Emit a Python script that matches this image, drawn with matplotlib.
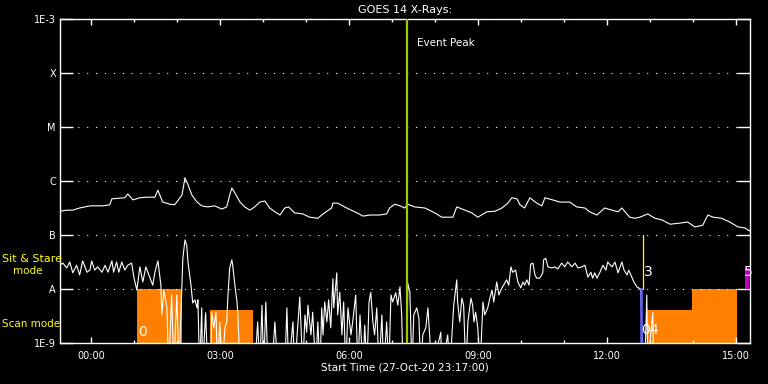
import numpy as np
import matplotlib
matplotlib.use('Agg')
from matplotlib import pyplot as plt
from matplotlib.ticker import FixedLocator, MultipleLocator, NullLocator

# hours after 00:00 28-Oct-20 (plot starts 23:17 on 27-Oct), log10 flux W/m^2
long_chan = [(-0.72, -6.56), (-0.56, -6.54), (-0.42, -6.54), (-0.26, -6.50), (-0.02, -6.46),
             (0.28, -6.46), (0.44, -6.44), (0.49, -6.33), (0.79, -6.31), (0.86, -6.24),
             (0.98, -6.35), (1.14, -6.31), (1.30, -6.30), (1.49, -6.30), (1.56, -6.17),
             (1.67, -6.39), (1.84, -6.43), (1.95, -6.44), (2.12, -6.26), (2.19, -5.94),
             (2.26, -6.07), (2.35, -6.26), (2.47, -6.39), (2.58, -6.46), (2.72, -6.48),
             (2.88, -6.46), (3.05, -6.52), (3.16, -6.48), (3.23, -6.26), (3.28, -6.13),
             (3.35, -6.22), (3.47, -6.39), (3.58, -6.48), (3.70, -6.54), (3.81, -6.48),
             (3.93, -6.39), (4.05, -6.37), (4.16, -6.50), (4.28, -6.57), (4.40, -6.63),
             (4.51, -6.50), (4.60, -6.48), (4.74, -6.59), (4.93, -6.61), (5.09, -6.67),
             (5.28, -6.69), (5.40, -6.61), (5.60, -6.50), (5.63, -6.41), (5.74, -6.41),
             (5.95, -6.50), (6.19, -6.59), (6.33, -6.65), (6.49, -6.63), (6.72, -6.63),
             (6.88, -6.61), (6.95, -6.50), (7.07, -6.43), (7.19, -6.46), (7.30, -6.50),
             (7.37, -6.43), (7.53, -6.48), (7.77, -6.50), (8.00, -6.59), (8.16, -6.67),
             (8.42, -6.67), (8.51, -6.48), (8.70, -6.54), (8.86, -6.59), (9.00, -6.67),
             (9.21, -6.57), (9.40, -6.56), (9.56, -6.50), (9.70, -6.41), (9.79, -6.31),
             (9.91, -6.33), (9.98, -6.44), (10.09, -6.50), (10.21, -6.31), (10.37, -6.41),
             (10.49, -6.46), (10.56, -6.31), (10.74, -6.35), (10.91, -6.39), (11.14, -6.39),
             (11.30, -6.48), (11.49, -6.50), (11.60, -6.57), (11.77, -6.63), (11.95, -6.50),
             (12.12, -6.54), (12.26, -6.57), (12.35, -6.50), (12.53, -6.67), (12.65, -6.69),
             (12.77, -6.67), (12.95, -6.61), (13.12, -6.69), (13.28, -6.72), (13.47, -6.80),
             (13.70, -6.78), (13.88, -6.76), (14.05, -6.85), (14.23, -6.82), (14.35, -6.63),
             (14.47, -6.67), (14.67, -6.69), (14.86, -6.76), (15.05, -6.85), (15.21, -6.87),
             (15.33, -6.93)]

LOW = -9.5  # below the 1E-9 floor
short_chan = [(-0.72, -7.56), (-0.65, -7.52), (-0.56, -7.61), (-0.49, -7.50), (-0.42, -7.70),
              (-0.33, -7.56), (-0.26, -7.74), (-0.19, -7.48), (-0.09, -7.69), (-0.02, -7.65),
              (0.02, -7.48), (0.09, -7.65), (0.16, -7.59), (0.26, -7.69), (0.33, -7.56),
              (0.40, -7.69), (0.49, -7.48), (0.53, -7.69), (0.60, -7.50), (0.65, -7.69),
              (0.72, -7.50), (0.79, -7.65), (0.86, -7.56), (0.95, -7.52), (1.00, -7.78),
              (1.07, -8.02), (1.14, -7.59), (1.21, -7.87), (1.28, -7.59), (1.35, -7.74),
              (1.44, -7.93), (1.49, -7.69), (1.56, -7.48), (1.63, -7.93), (1.65, -8.48),
              (1.70, -8.02), (1.77, -8.35), (1.81, LOW), (1.88, -8.11), (1.93, LOW),
              (2.00, -8.11), (2.05, LOW), (2.14, -7.43), (2.19, -7.09), (2.23, -7.19),
              (2.26, -7.50), (2.33, -7.93), (2.37, -8.26), (2.42, -8.20), (2.47, -8.35),
              (2.49, -8.20), (2.53, LOW), (2.58, -8.35), (2.60, LOW), (2.67, -8.44),
              (2.72, LOW), (2.79, LOW), (2.81, -8.43), (2.86, -8.72), (2.91, -8.43),
              (2.95, LOW), (3.00, -8.61), (3.05, LOW), (3.12, -8.72), (3.16, -8.61),
              (3.19, -8.11), (3.23, -7.61), (3.28, -7.46), (3.30, -7.56), (3.35, -7.93),
              (3.40, -8.24), (3.42, -8.48), (3.47, LOW), (3.81, LOW), (3.88, -8.61),
              (3.93, LOW), (3.98, -8.30), (4.02, LOW), (4.07, -8.24), (4.12, LOW),
              (4.21, LOW), (4.28, -8.61), (4.35, LOW), (4.51, LOW), (4.56, -8.35),
              (4.60, LOW), (4.70, -8.61), (4.74, LOW), (4.86, -8.15), (4.93, LOW),
              (4.98, -8.48), (5.02, -8.80), (5.05, -8.30), (5.12, -8.85), (5.16, -8.43),
              (5.23, LOW), (5.28, -8.61), (5.33, LOW), (5.37, -8.35), (5.40, -8.85),
              (5.44, -8.24), (5.49, -8.61), (5.53, -8.20), (5.58, -8.72), (5.63, -7.81),
              (5.65, -8.35), (5.72, -7.70), (5.74, -8.48), (5.79, -8.06), (5.84, -8.85),
              (5.88, -8.24), (5.93, LOW), (5.98, -8.35), (6.05, -8.85), (6.09, -8.61),
              (6.16, -8.11), (6.21, LOW), (6.26, -8.48), (6.33, LOW), (6.37, -8.67),
              (6.42, LOW), (6.47, -8.24), (6.51, -8.06), (6.56, -8.61), (6.60, -8.85),
              (6.65, -8.35), (6.70, LOW), (6.77, -8.48), (6.81, LOW), (6.88, -8.61),
              (6.93, LOW), (6.98, -8.11), (7.02, -8.24), (7.09, -8.07), (7.14, -8.30),
              (7.19, -7.96), (7.23, -8.48), (7.26, LOW), (7.35, LOW), (7.37, -7.89),
              (7.42, -8.06), (7.47, LOW), (7.51, -8.48), (7.58, -8.35), (7.63, -8.54),
              (7.67, LOW), (7.72, -8.85), (7.79, -8.72), (7.84, -8.35), (7.88, -8.85),
              (7.93, LOW), (8.14, -8.80), (8.16, LOW), (8.30, -8.85), (8.35, LOW),
              (8.44, -8.30), (8.51, -7.83), (8.53, -8.24), (8.58, -8.61), (8.63, -8.17),
              (8.67, -8.30), (8.72, LOW), (8.77, -8.61), (8.84, -8.17), (8.88, -8.30),
              (8.91, -8.61), (8.95, -8.43), (9.00, -8.72), (9.05, LOW), (9.12, -8.24),
              (9.16, -8.48), (9.23, -8.35), (9.28, -8.17), (9.33, -8.02), (9.37, -8.24),
              (9.44, -7.87), (9.49, -8.11), (9.56, -7.98), (9.60, -7.93), (9.67, -7.83),
              (9.72, -7.93), (9.77, -7.59), (9.81, -7.69), (9.88, -7.65), (9.93, -7.87),
              (10.00, -7.98), (10.05, -7.87), (10.09, -7.93), (10.14, -7.83), (10.19, -7.93),
              (10.23, -7.54), (10.28, -7.52), (10.33, -7.74), (10.37, -7.80), (10.44, -7.80),
              (10.51, -7.70), (10.53, -7.46), (10.58, -7.43), (10.63, -7.59), (10.72, -7.61),
              (10.79, -7.59), (10.86, -7.63), (10.95, -7.52), (11.02, -7.59), (11.09, -7.50),
              (11.19, -7.59), (11.26, -7.52), (11.33, -7.61), (11.42, -7.59), (11.49, -7.56),
              (11.53, -7.69), (11.56, -7.78), (11.63, -7.69), (11.67, -7.80), (11.72, -7.70),
              (11.77, -7.80), (11.84, -7.69), (11.91, -7.56), (11.98, -7.65), (12.02, -7.50),
              (12.12, -7.59), (12.19, -7.50), (12.26, -7.70), (12.35, -7.50), (12.40, -7.65),
              (12.47, -7.74), (12.51, -7.65), (12.58, -7.78), (12.63, -7.87), (12.70, -7.96),
              (12.74, -7.98), (12.79, -8.00), (12.84, LOW), (12.88, LOW), (12.93, -8.11),
              (12.95, LOW), (13.02, -8.85), (13.07, -8.43), (13.09, LOW)]

# scan-mode periods: start, end, top (log10)
scan_start = [1.07, 2.77, 12.93, 13.98]
scan_end = [2.12, 3.77, 13.98, 15.02]
scan_top = [-8.0, -8.39, -8.39, -8.0]

event_peak = 7.35
tick_hours = [0, 3, 6, 9, 12, 15]
tick_labels = ['00:00', '03:00', '06:00', '09:00', '12:00', '15:00']
ytick_vals = [1e-9, 1e-8, 1e-7, 1e-6, 1e-5, 1e-4, 1e-3]
ytick_labels = ['1E-9', 'A', 'B', 'C', 'M', 'X', '1E-3']

plt.rcParams['font.family'] = 'DejaVu Sans'
fig = plt.figure(figsize=(7.68, 3.84), dpi=100, facecolor='black')
ax = fig.add_axes([60/768, 41/384, 690/768, 324/384])
ax.set_facecolor('black')
ax.set_yscale('log')
ax.set_xlim(-43/60, 15.33)
ax.set_ylim(1e-9, 1e-3)

for s, e, top in zip(scan_start, scan_end, scan_top):
    ax.fill_between([s, e], 1e-9, 10**top, color='#ff8000', lw=0, zorder=1)

lt = np.array([p[0] for p in long_chan])
lv = np.array([p[1] for p in long_chan])
st = np.array([p[0] for p in short_chan])
sv = np.array([p[1] for p in short_chan])
ax.plot(lt, 10**lv, color='white', lw=0.8, zorder=3)
ax.plot(st, 10**sv, color='white', lw=0.8, zorder=3)

ax.axvline(event_peak, color='#99cc00', lw=1.6, zorder=4)
ax.text(event_peak + 0.23, 10**-3.45, 'Event Peak', color='white', fontsize=7.5, va='center')

# mode change markers
ax.plot([12.79, 12.79], [1e-9, 1e-8], color='#6060ff', lw=1.8, zorder=4)
ax.plot([12.84, 12.84], [1e-8, 1e-7], color='yellow', lw=0.9, zorder=4)
ax.fill_between([15.21, 15.30], 10**-8.0, 10**-7.61, color='#c000c0', lw=0, zorder=2)
for tx, ty, lab in [(1.21, -8.8, '0'), (12.97, -7.69, '3'), (12.91, -8.76, '0'),
                    (13.10, -8.76, '4'), (15.30, -7.69, '5')]:
    ax.text(tx, 10**ty, lab, color='white', fontsize=10, ha='center', va='center',
            zorder=5, clip_on=False)

ax.set_yticks(ytick_vals)
ax.set_yticklabels(ytick_labels)
ax.yaxis.set_minor_locator(NullLocator())
ax.set_xticks(tick_hours)
ax.set_xticklabels(tick_labels)
ax.xaxis.set_minor_locator(MultipleLocator(1))
ax.tick_params(axis='y', which='major', direction='in', length=9.4, width=1,
               left=True, right=True, colors='white', labelsize=7, pad=3)
ax.tick_params(axis='x', which='major', direction='in', length=4.3, width=1,
               top=True, bottom=True, colors='white', labelsize=7, pad=6)
ax.tick_params(axis='x', which='minor', direction='in', length=2.2, width=1,
               top=True, bottom=True, colors='white')
ax.grid(axis='y', which='major', color='white', lw=0.8, ls=(0, (1, 7)))
for sp in ax.spines.values():
    sp.set_color('white')
    sp.set_linewidth(1)

ax.set_title('GOES 14 X-Rays:', color='white', fontsize=8, pad=4)
ax.set_xlabel('Start Time (27-Oct-20 23:17:00)', color='white', fontsize=7.5, labelpad=1)

fig.text(2/768, 1 - 259/384, 'Sit & Stare', color='yellow', fontsize=8, va='center')
fig.text(13/768, 1 - 271/384, 'mode', color='yellow', fontsize=7.5, va='center')
fig.text(2/768, 1 - 324/384, 'Scan mode', color='yellow', fontsize=7.5, va='center')

fig.savefig('out.png', dpi=100, facecolor='black')
